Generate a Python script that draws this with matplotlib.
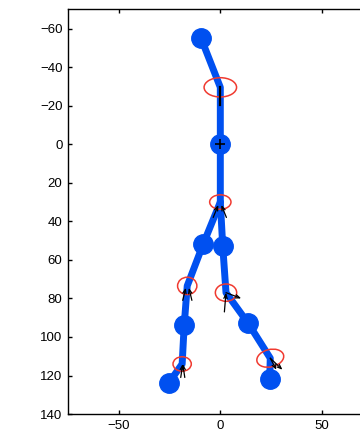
import numpy as np
import matplotlib
matplotlib.use('Agg')
import matplotlib.pyplot as plt
from matplotlib.patches import Ellipse

plt.rcParams['font.family'] = ['Liberation Sans', 'DejaVu Sans']

# skeleton joints (x, y), y axis is reversed
spine_x = [-9.5, 0, 0, 0]
spine_y = [-55, -29.5, 0, 30]
left_x = [0, -8.5, -16.3, -17.8, -18.8, -25.5]
left_y = [30, 52, 73.5, 94, 114, 124]
right_x = [0, 1.2, 2.8, 13.8, 24.6, 24.3]
right_y = [30, 53, 77, 93, 111, 122]

# filled joints
dot_x = [-9.5, 0, -8.5, 1.2, -17.8, 13.8, -25.5, 24.3]
dot_y = [-55, 0, 52, 53, 94, 93, 124, 122]

# red ellipses: centre, width, height, angle
ell_x = [0, 0, -16.3, 2.8, -18.8, 24.6]
ell_y = [-29.5, 30, 73.5, 77, 114, 111]
ell_w = [16, 10.5, 9.5, 10.5, 9, 13.5]
ell_h = [10, 7.5, 9, 9, 7.5, 9]
ell_a = [0, 0, 0, 0, 0, -15]

# little black frame arrows: start, vector
arr_x = [0, -3.5, 3.0, -18.5, -14.0, 2.0, 2.8, -19.5, -17.5, 24.6, 24.6]
arr_y = [-29.5, 38, 38, 81, 81, 87, 77, 121, 121, 111, 111]
arr_u = [0, 2.5, -2.5, 1.5, -1.5, 0.8, 7.5, 1, -1, 6, 3]
arr_v = [9, -6.5, -6.5, -6.5, -6.5, -10, 3, -7, -7, 6, 6]

fig = plt.figure(figsize=(3.6, 4.41), dpi=100)
ax = fig.add_axes([0.189, 0.061, 0.846, 0.918])

lw = 5
ax.plot(spine_x, spine_y, color='#0050f0', lw=lw, solid_capstyle='round', zorder=2)
ax.plot(left_x, left_y, color='#0050f0', lw=lw, solid_capstyle='round', zorder=2)
ax.plot(right_x, right_y, color='#0050f0', lw=lw, solid_capstyle='round', zorder=2)
ax.plot(dot_x, dot_y, 'o', color='#0050f0', ms=14, zorder=3)

for x, y, w, h, a in zip(ell_x, ell_y, ell_w, ell_h, ell_a):
    ax.add_patch(Ellipse((x, y), w, h, angle=a, fill=False, ec='#f03a30', lw=1.1, zorder=4))

# arrows (neck one drawn as a plain stick)
ax.plot([arr_x[0], arr_x[0] + arr_u[0]], [arr_y[0], arr_y[0] + arr_v[0]], color='k', lw=1.6, zorder=5)
for x, y, u, v in zip(arr_x[1:], arr_y[1:], arr_u[1:], arr_v[1:]):
    ax.annotate('', xy=(x + u, y + v), xytext=(x, y),
                arrowprops=dict(arrowstyle='->,head_length=0.3,head_width=0.12', color='k', lw=0.9,
                                shrinkA=0, shrinkB=0), zorder=5)

ax.plot([0], [0], '+', color='k', ms=7, mew=1.2, zorder=5)

ax.set_xlim(-75, 75)
ax.set_ylim(140, -70)
ax.set_xticks([-50, 0, 50])
ax.set_yticks(np.arange(-60, 141, 20))
ax.tick_params(direction='in', length=3, width=1, top=True, right=True, labelsize=9.5, pad=4)
for s in ax.spines.values():
    s.set_linewidth(1)

fig.savefig('out.png', dpi=100)
